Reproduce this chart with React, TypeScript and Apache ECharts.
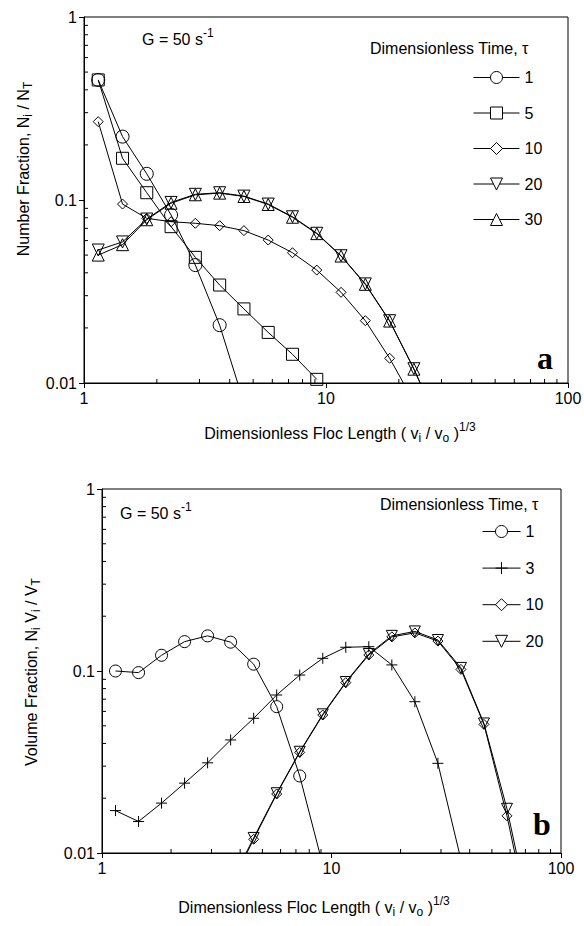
import React, { useEffect, useRef } from "react";
import * as echarts from "echarts";

// Dimensionless floc length (v_i / v_o)^(1/3) for each size class
const X = [1.145, 1.443, 1.817, 2.29, 2.885, 3.635, 4.58, 5.77, 7.27, 9.16, 11.54, 14.54, 18.32, 23.08, 29.08, 36.64, 46.16, 58.16, 73.28];

// Panel a: number fraction N_i / N_T
const aLabels = ["1", "5", "10", "20", "30"];
const aTau1 = [0.453, 0.222, 0.139, 0.0828, 0.0441, 0.0207, 0.0078];
const aTau5 = [0.453, 0.169, 0.1096, 0.0715, 0.0486, 0.0343, 0.0254, 0.0189, 0.01435, 0.01047];
const aTau10 = [0.268, 0.095, 0.0794, 0.0761, 0.0746, 0.0724, 0.068, 0.0604, 0.0515, 0.0414, 0.0313, 0.0219, 0.01365, 0.0079];
const aTau20 = [0.0533, 0.059, 0.0787, 0.097, 0.1074, 0.1096, 0.105, 0.095, 0.081, 0.0658, 0.0496, 0.0348, 0.0219, 0.01197, 0.006];
const aTau30 = [0.05, 0.057, 0.078, 0.096, 0.1068, 0.109, 0.1045, 0.0945, 0.0805, 0.0655, 0.0494, 0.0346, 0.0218, 0.0119, 0.006];

// Panel b: volume fraction N_i V_i / V_T
const bLabels = ["1", "3", "10", "20"];
const bTau1 = [0.1, 0.098, 0.122, 0.145, 0.156, 0.144, 0.109, 0.0637, 0.0265, 0.0086];
const bTau3 = [0.0171, 0.0149, 0.0188, 0.0242, 0.0313, 0.0418, 0.055, 0.0738, 0.095, 0.1174, 0.135, 0.136, 0.108, 0.0678, 0.0311, 0.0092];
const bTau10 = [null, null, null, null, null, 0.0066, 0.0119, 0.0211, 0.0357, 0.0573, 0.0863, 0.1225, 0.154, 0.162, 0.146, 0.102, 0.0509, 0.016, 0.004];
const bTau20 = [null, null, null, null, null, 0.0068, 0.0121, 0.0213, 0.036, 0.0578, 0.087, 0.124, 0.156, 0.165, 0.148, 0.104, 0.0515, 0.0175, 0.0045];

// Axis extents and minor tick values
const X_RANGE = [1, 100];
const Y_RANGE = [0.01, 1];
const MINOR_X = [2, 3, 4, 5, 6, 7, 8, 9, 20, 30, 40, 50, 60, 70, 80, 90];
const MINOR_Y = [0.02, 0.03, 0.04, 0.05, 0.06, 0.07, 0.08, 0.09, 0.2, 0.3, 0.4, 0.5, 0.6, 0.7, 0.8, 0.9];

const FONT = "'Liberation Sans', Arial, sans-serif";
const CROSS = "path://M0,6L12,6M6,0L6,12";

function pairs(ys: (number | null)[]) {
  const out: number[][] = [];
  ys.forEach((y, i) => {
    if (y != null) out.push([X[i], y]);
  });
  return out;
}

function lineSeries(name: string, ys: (number | null)[], symbol: string, size: number, gi: number, rotate = 0) {
  return {
    type: "line",
    name,
    xAxisIndex: gi,
    yAxisIndex: gi,
    data: pairs(ys),
    symbol,
    symbolSize: size,
    symbolRotate: rotate,
    showAllSymbol: true,
    clip: true,
    z: 3,
    lineStyle: { color: "#000", width: 1 },
    itemStyle: { color: "rgba(0,0,0,0)", borderColor: "#000", borderWidth: 1 },
    emphasis: { disabled: true },
  };
}

function minorTicks(gi: number) {
  const xs = MINOR_X.map((v) => [v, Y_RANGE[0]]);
  const ys = MINOR_Y.map((v) => [X_RANGE[0], v]);
  return [
    {
      type: "custom",
      xAxisIndex: gi,
      yAxisIndex: gi,
      silent: true,
      z: 4,
      data: xs,
      renderItem: (_p: any, api: any) => {
        const c = api.coord([api.value(0), api.value(1)]);
        return { type: "line", shape: { x1: c[0], y1: c[1], x2: c[0], y2: c[1] - 4 }, style: { stroke: "#000", lineWidth: 1 } };
      },
    },
    {
      type: "custom",
      xAxisIndex: gi,
      yAxisIndex: gi,
      silent: true,
      z: 4,
      data: ys,
      renderItem: (_p: any, api: any) => {
        const c = api.coord([api.value(0), api.value(1)]);
        return { type: "line", shape: { x1: c[0], y1: c[1], x2: c[0] + 4, y2: c[1] }, style: { stroke: "#000", lineWidth: 1 } };
      },
    },
  ];
}

function axisCommon() {
  return {
    type: "log",
    logBase: 10,
    axisLine: { show: true, lineStyle: { color: "#000", width: 1 } },
    axisTick: { show: true, inside: false, length: 5, lineStyle: { color: "#000" } },
    axisLabel: { color: "#000", fontSize: 16, fontFamily: FONT, margin: 7 },
    splitLine: { show: false },
  };
}

const rich = {
  m: { fontSize: 16, fontFamily: FONT, color: "#000" },
  sub: { fontSize: 12, fontFamily: FONT, color: "#000", padding: [10, 0, 0, 0] },
  sup: { fontSize: 12, fontFamily: FONT, color: "#000", padding: [0, 0, 12, 0] },
};

function txt(x: number, y: number, text: string, opts: any = {}) {
  return {
    type: "text",
    x,
    y,
    rotation: opts.rotation || 0,
    z: 10,
    style: {
      text,
      rich,
      align: opts.align || "left",
      verticalAlign: "middle",
      fontSize: opts.fontSize || 16,
      fontFamily: opts.fontFamily || FONT,
      fontWeight: opts.fontWeight || "normal",
      fill: "#000",
    },
  };
}

export default function App() {
  const ref = useRef<HTMLDivElement>(null);
  useEffect(() => {
    if (!ref.current) return;
    const chart = echarts.init(ref.current, null, { renderer: "svg" });
    const legendBase = {
      orient: "vertical",
      itemHeight: 15,
      selectedMode: false,
      padding: 0,
      formatter: (n: string) => n.slice(1),
      itemStyle: { color: "#fff", borderColor: "#000", borderWidth: 1 },
      lineStyle: { color: "#000", width: 1 },
      textStyle: { color: "#000", fontSize: 16, fontFamily: FONT },
    };
    chart.setOption({
      animation: false,
      backgroundColor: "#fff",
      grid: [
        { left: 84, top: 17, width: 484, height: 366, show: true, borderColor: "#000", borderWidth: 1, containLabel: false, outerBoundsMode: "none" },
        { left: 102, top: 489, width: 459, height: 364, show: true, borderColor: "#000", borderWidth: 1, containLabel: false, outerBoundsMode: "none" },
      ],
      xAxis: [
        { ...axisCommon(), gridIndex: 0, min: X_RANGE[0], max: X_RANGE[1] },
        { ...axisCommon(), gridIndex: 1, min: X_RANGE[0], max: X_RANGE[1] },
      ],
      yAxis: [
        { ...axisCommon(), gridIndex: 0, min: Y_RANGE[0], max: Y_RANGE[1] },
        { ...axisCommon(), gridIndex: 1, min: Y_RANGE[0], max: Y_RANGE[1] },
      ],
      legend: [
        { ...legendBase, data: aLabels.map((l) => "a" + l), left: 473, top: 69.5, itemWidth: 46, itemGap: 19.5 },
        { ...legendBase, data: bLabels.map((l) => "b" + l), left: 482, top: 523.5, itemWidth: 38, itemGap: 20.6 },
      ],
      series: [
        lineSeries("a1", aTau1, "circle", 13, 0),
        lineSeries("a5", aTau5, "rect", 12, 0),
        lineSeries("a10", aTau10, "diamond", 10, 0),
        lineSeries("a20", aTau20, "triangle", 12, 0, 180),
        lineSeries("a30", aTau30, "triangle", 12, 0),
        lineSeries("b1", bTau1, "circle", 12, 1),
        lineSeries("b3", bTau3, CROSS, 11, 1),
        lineSeries("b10", bTau10, "diamond", 10, 1),
        lineSeries("b20", bTau20, "triangle", 11, 1, 180),
        ...minorTicks(0),
        ...minorTicks(1),
      ],
      graphic: [
        txt(142, 39, "{m|G = 50 s}{sup|-1}"),
        txt(370, 48, "Dimensionless Time, τ", { fontSize: 16 }),
        txt(545, 358, "a", { fontSize: 32, fontWeight: "bold", fontFamily: "'Liberation Serif', 'DejaVu Serif', serif", align: "center" }),
        txt(23, 169, "{m|Number Fraction, N}{sub|i}{m| / N}{sub|T}", { rotation: Math.PI / 2, align: "center" }),
        txt(340, 433, "{m|Dimensionless Floc Length ( v}{sub|i}{m| / v}{sub|o}{m| )}{sup|1/3}", { align: "center" }),
        txt(120, 513, "{m|G = 50 s}{sup|-1}"),
        txt(380, 504, "Dimensionless Time, τ", { fontSize: 16 }),
        txt(542, 824, "b", { fontSize: 32, fontWeight: "bold", fontFamily: "'Liberation Serif', 'DejaVu Serif', serif", align: "center" }),
        txt(31, 672, "{m|Volume Fraction, N}{sub|i}{m| V}{sub|i}{m| / V}{sub|T}", { rotation: Math.PI / 2, align: "center" }),
        txt(314, 907, "{m|Dimensionless Floc Length ( v}{sub|i}{m| / v}{sub|o}{m| )}{sup|1/3}", { align: "center" }),
      ],
    });
    return () => chart.dispose();
  }, []);
  return <div ref={ref} style={{ position: "fixed", left: 0, top: 0, width: 584, height: 926, background: "#fff" }} />;
}
